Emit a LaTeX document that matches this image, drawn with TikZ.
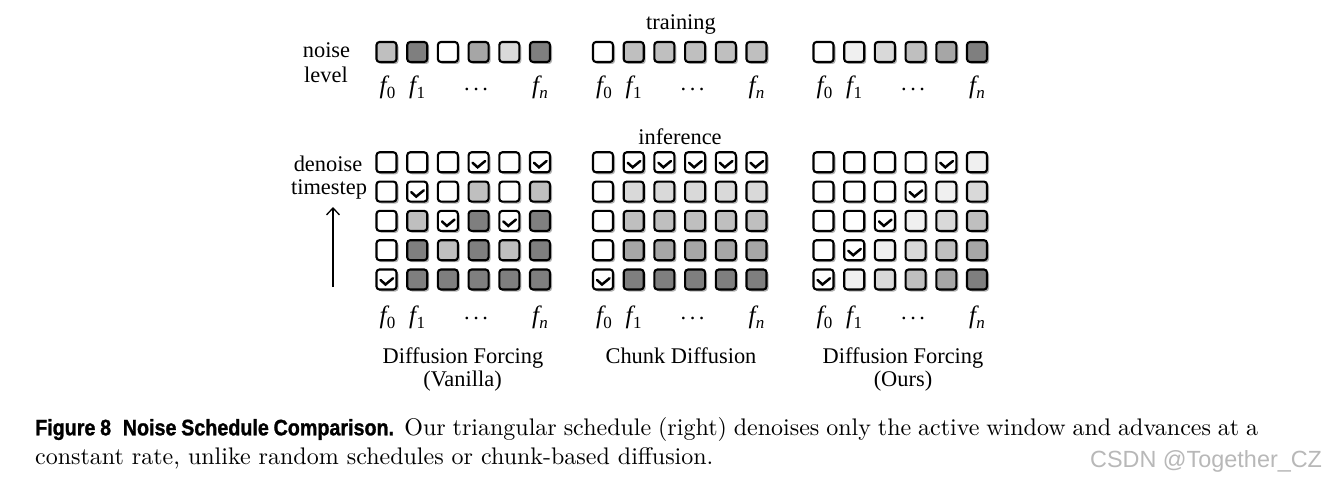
\documentclass[tikz,border=0pt]{standalone}
\usepackage{fontspec}
\setmainfont{Liberation Serif}
\newfontfamily\lmr{lmroman10-regular.otf}
\newfontfamily\capsans[FakeStretch=0.88,FakeBold=1.2]{Liberation Sans}
\newfontfamily\wmsans{Liberation Sans}
\usetikzlibrary{shadows,arrows.meta}
\definecolor{g0}{HTML}{FFFFFF}
\definecolor{g1}{HTML}{F0F0F0}
\definecolor{g2}{HTML}{D9D9D9}
\definecolor{g3}{HTML}{BFBFBF}
\definecolor{g4}{HTML}{A6A6A6}
\definecolor{g5}{HTML}{7F7F7F}
\definecolor{g9}{HTML}{FFFFFF}
\newcommand{\fl}[1]{{\fontsize{25}{28}\selectfont\itshape f}\kern0.5pt\raisebox{-5pt}{\fontsize{17}{18}\selectfont #1}}
\newcommand{\fln}{{\fontsize{25}{28}\selectfont\itshape f}\kern0.5pt\raisebox{-5pt}{\fontsize{17}{18}\selectfont\itshape n}}
\newcommand{\mydots}{\raisebox{3.5pt}{.\hspace{3.5pt}.\hspace{3.5pt}.}}
\tikzset{
  sq/.style={draw=black, line width=2.1pt, rounded corners=3pt, minimum size=20pt,
    inner sep=0pt, drop shadow={shadow xshift=2pt, shadow yshift=-2pt, opacity=0.3, fill=black}},
  chkline/.style={line width=2.5pt, line cap=round, line join=miter},
  lbl/.style={anchor=base, inner sep=0pt},
}
\newcommand\panel[4]{%
  \foreach \cc [count=\ii from 0] in {#3} {
    \node[sq, fill=g\cc] (#1t\ii) at ({#2+30.7*\ii},-52) {};
  }
  \foreach \row [count=\rr] in {#4} {
    \foreach \cc [count=\ii from 0] in \row {
      \node[sq, fill=g\cc] (#1r\rr c\ii) at ({#2+30.7*\ii},{-162.3-29.3*(\rr-1)}) {};
      \ifnum\cc=9 \draw[chkline] ([shift={(-6,-0.5)}]#1r\rr c\ii.center) -- ++(5,-4.5) -- ++(7.6,6.3);\fi
    }
  }
  \node[lbl] (#1ta) at ({#2+1},-94) {\fl0};
  \node[lbl] (#1tb) at ({#2+30.7},-94) {\fl1};
  \node[lbl] (#1tc) at ({#2+3*30.7-2.5},-94) {\mydots};
  \node[lbl] (#1td) at ({#2+5*30.7},-94) {\fln};
  \node[lbl] (#1ga) at ({#2+1},-323) {\fl0};
  \node[lbl] (#1gb) at ({#2+30.7},-323) {\fl1};
  \node[lbl] (#1gc) at ({#2+3*30.7-2.5},-323) {\mydots};
  \node[lbl] (#1gd) at ({#2+5*30.7},-323) {\fln};
}
\begin{document}
\begin{tikzpicture}[x=1pt,y=1pt,font=\fontsize{22.4}{26}\selectfont]
\useasboundingbox[fill=white] (0,0) rectangle (1326,-484);
\panel{A}{386.5}{3,5,0,4,2,5}{{0,0,0,9,0,9},{0,9,0,3,0,3},{0,3,9,5,9,5},{0,5,3,5,3,5},{9,5,5,5,5,5}}
\panel{B}{603}{0,3,3,3,3,3}{{0,9,9,9,9,9},{0,2,2,2,2,2},{0,3,3,3,3,3},{0,4,4,4,4,4},{9,5,5,5,5,5}}
\panel{C}{823.5}{0,1,2,3,4,5}{{0,0,0,0,9,1},{0,0,0,9,1,2},{0,0,9,1,2,3},{0,9,1,2,3,4},{9,1,2,3,4,5}}
% side and top labels
\node[lbl] (noise) at (326.5,-58) {noise};
\node[lbl] (level) at (326,-83) {level};
\node[lbl] (denoise) at (328,-171.5) {denoise};
\node[lbl] (timestep) at (329,-194) {timestep};
\node[lbl] (training) at (681,-30) {training};
\node[lbl] (inference) at (680,-144.5) {inference};
\coordinate (arB) at (333,-287);
\coordinate (arT) at (333,-207);
\draw[line width=1.3pt, -{Straight Barb[length=7pt,width=13pt]}] (arB) -- (arT);
% panel titles
\node[lbl] (t1a) at (463,-363.3) {Diffusion Forcing};
\node[lbl] (t1b) at (462.5,-386.7) {(Vanilla)};
\node[lbl] (t2a) at (681,-363.3) {Chunk Diffusion};
\node[lbl] (t3a) at (903,-363.3) {Diffusion Forcing};
\node[lbl] (t3b) at (903,-386.7) {(Ours)};
% caption
\node[anchor=base west, inner sep=0pt] (cap1) at (35,-435.3)
  {\lmr\fontsize{24}{28}\selectfont\hbox to 1223pt{{\capsans\bfseries\fontsize{22.4}{26}\selectfont Figure 8\hspace{11.7pt}Noise Schedule Comparison.} Our triangular schedule (right) denoises only the active window and advances at a}};
\node[anchor=base west, inner sep=0pt] (cap2) at (35,-464.7)
  {\lmr\fontsize{24}{28}\selectfont constant rate, unlike random schedules or chunk-based diffusion.};
\node[anchor=base west, inner sep=0pt, text=black!28] (wm) at (1090,-467)
  {\wmsans\fontsize{23.4}{26}\selectfont CSDN @Together\_CZ};
\end{tikzpicture}
\end{document}
